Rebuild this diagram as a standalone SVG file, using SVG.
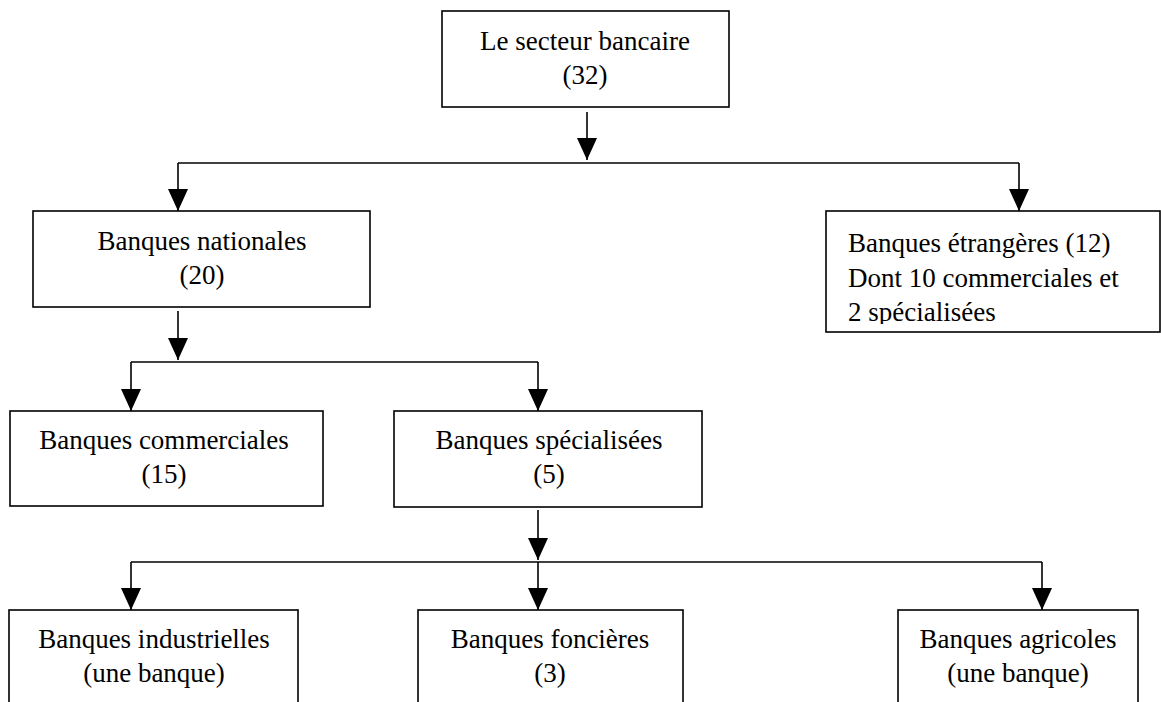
<svg xmlns="http://www.w3.org/2000/svg" width="1161" height="702" viewBox="0 0 1161 702">
<style>
  .box { fill: #ffffff; stroke: #000000; stroke-width: 1.6; }
  .t { font-family: "Liberation Serif", "Times New Roman", serif; font-size: 27px; fill: #000000; }
  .c { text-anchor: middle; }
  .conn { fill: none; stroke: #000000; stroke-width: 1.6; }
</style>
<defs>
  <marker id="arr" viewBox="0 0 22 20" refX="22" refY="10" markerWidth="22" markerHeight="20" markerUnits="userSpaceOnUse" orient="auto">
    <path d="M0,0 L22,10 L0,20 z" fill="#000000"/>
  </marker>
  <clipPath id="clipEtr">
    <rect x="826" y="211" width="335" height="113"/>
  </clipPath>
</defs>
<rect width="1161" height="702" fill="#ffffff"/>

<g id="connectors">
  <path class="conn" d="M587,112 V160" marker-end="url(#arr)"/>
  <path class="conn" d="M178,163 H1019"/>
  <path class="conn" d="M178,163 V211" marker-end="url(#arr)"/>
  <path class="conn" d="M1019,163 V211" marker-end="url(#arr)"/>
  <path class="conn" d="M178,311 V360" marker-end="url(#arr)"/>
  <path class="conn" d="M131,362 H538"/>
  <path class="conn" d="M131,362 V411" marker-end="url(#arr)"/>
  <path class="conn" d="M538,362 V411" marker-end="url(#arr)"/>
  <path class="conn" d="M538,510 V560" marker-end="url(#arr)"/>
  <path class="conn" d="M131,562 H1042"/>
  <path class="conn" d="M131,562 V610" marker-end="url(#arr)"/>
  <path class="conn" d="M538,562 V610" marker-end="url(#arr)"/>
  <path class="conn" d="M1042,562 V610" marker-end="url(#arr)"/>
</g>

<g id="secteur">
  <rect class="box" x="442" y="11" width="287" height="96"/>
  <text class="t c" x="585" y="50">Le secteur bancaire</text>
  <text class="t c" x="585" y="84">(32)</text>
</g>

<g id="nationales">
  <rect class="box" x="33" y="211" width="337" height="96"/>
  <text class="t c" x="202" y="250">Banques nationales</text>
  <text class="t c" x="202" y="284">(20)</text>
</g>

<g id="etrangeres">
  <rect class="box" x="826" y="211" width="334" height="121"/>
  <g clip-path="url(#clipEtr)">
    <text class="t" x="848" y="252">Banques étrangères (12)</text>
    <text class="t" x="848" y="287">Dont 10 commerciales et</text>
    <text class="t" x="848" y="321">2 spécialisées</text>
  </g>
</g>

<g id="commerciales">
  <rect class="box" x="10" y="411" width="313" height="95"/>
  <text class="t c" x="164" y="449">Banques commerciales</text>
  <text class="t c" x="164" y="483">(15)</text>
</g>

<g id="specialisees">
  <rect class="box" x="394" y="411" width="308" height="96"/>
  <text class="t c" x="549" y="449">Banques spécialisées</text>
  <text class="t c" x="549" y="483">(5)</text>
</g>

<g id="industrielles">
  <rect class="box" x="9" y="610" width="289" height="110"/>
  <text class="t c" x="154" y="648">Banques industrielles</text>
  <text class="t c" x="154" y="682">(une banque)</text>
</g>

<g id="foncieres">
  <rect class="box" x="418" y="610" width="265" height="110"/>
  <text class="t c" x="550" y="648">Banques foncières</text>
  <text class="t c" x="550" y="682">(3)</text>
</g>

<g id="agricoles">
  <rect class="box" x="898" y="610" width="240" height="110"/>
  <text class="t c" x="1018" y="648">Banques agricoles</text>
  <text class="t c" x="1018" y="682">(une banque)</text>
</g>
</svg>
